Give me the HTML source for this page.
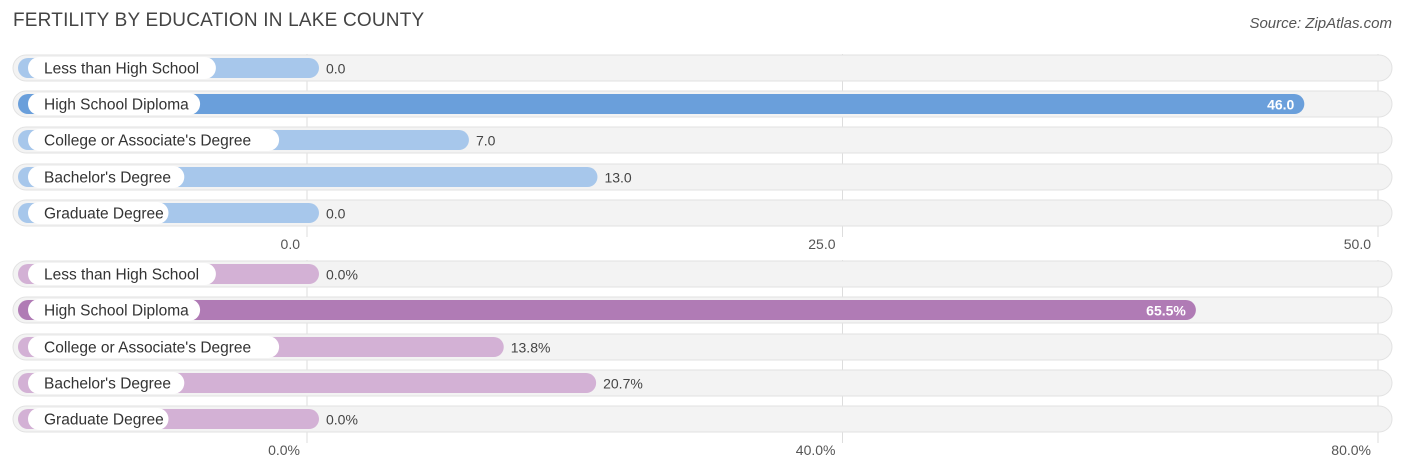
<!DOCTYPE html>
<html><head><meta charset="utf-8"><style>
body{margin:0;background:#fff;width:1406px;height:475px;overflow:hidden;font-family:"Liberation Sans",Arial,sans-serif;position:relative}
.t{position:absolute;left:13px;top:10px;font-size:19px;color:#444;letter-spacing:0.2px}
.s{position:absolute;right:14px;top:15px;font-size:15px;color:#555;font-style:italic}
</style></head><body>
<div class="t">FERTILITY BY EDUCATION IN LAKE COUNTY</div>
<div class="s">Source: ZipAtlas.com</div>
<svg id="c" width="1406" height="475" style="position:absolute;left:0;top:0"></svg>
<script>
const categories=["Less than High School","High School Diploma","College or Associate's Degree","Bachelor's Degree","Graduate Degree"];
const topValues=[0,46,7,13,0];
const topTicks=[0,25,50];
const topTickLabels=["0.0","25.0","50.0"];
const botValues=[0,65.5,13.8,20.7,0];
const botTicks=[0,40,80];
const botTickLabels=["0.0%","40.0%","80.0%"];
const svg=document.getElementById('c');
const NS='http://www.w3.org/2000/svg';
function mk(t,a,txt){const e=document.createElementNS(NS,t);for(const k in a)e.setAttribute(k,a[k]);if(txt!==undefined)e.textContent=txt;svg.appendChild(e);return e;}
function panel(vals,ticks,tickLabels,max,rowY,axisY,light,dark,suffix,pfx){
  const x=v=>307+v*(1378-307)/max;
  ticks.forEach((t,i)=>{
    const g=mk('line',{x1:x(t),x2:x(t),y1:rowY[0]-14,y2:axisY-12,stroke:'#ddd','stroke-width':1});
    
    
  });
  vals.forEach((v,i)=>{
    const cy=rowY[i];
    const bg=mk('rect',{x:13,y:cy-13,width:1379,height:26,rx:13,fill:'#f3f3f3',stroke:'#e2e2e2'});
    
    
    const hi=v===Math.max(...vals);
    const end=x(v)+12;
    const b=mk('rect',{x:18,y:cy-10,width:end-18,height:20,rx:10,fill:hi?dark:light});
    
    
    const lw=categories[i].length*7.9+22;
    const p=mk('rect',{x:28,y:cy-11,width:lw,height:22,rx:11,fill:'#fff'});
    
    
    const l=mk('text',{x:44,y:cy+5.5,'font-size':15.5,fill:'#333'},categories[i]);
    
    
    const txt=v.toFixed(1)+suffix;
    const vl=hi?mk('text',{x:end-10,y:cy+5.5,'font-size':14,fill:'#fff','text-anchor':'end','font-weight':'bold'},txt)
              :mk('text',{x:end+7,y:cy+5.5,'font-size':14,fill:'#444'},txt);
    
    
  });
  ticks.forEach((t,i)=>{
    const tl=mk('text',{x:x(t)-7,y:axisY,'font-size':14,fill:'#555','text-anchor':'end'},tickLabels[i]);
    
    
  });
}
panel(topValues,topTicks,topTickLabels,50,[68,104,140,177,213],249,'#a7c7eb','#6a9fdb','','fertility-count');
panel(botValues,botTicks,botTickLabels,80,[274,310,347,383,419],455,'#d3b1d5','#b07bb5','%','fertility-rate');
</script>
</body></html>
